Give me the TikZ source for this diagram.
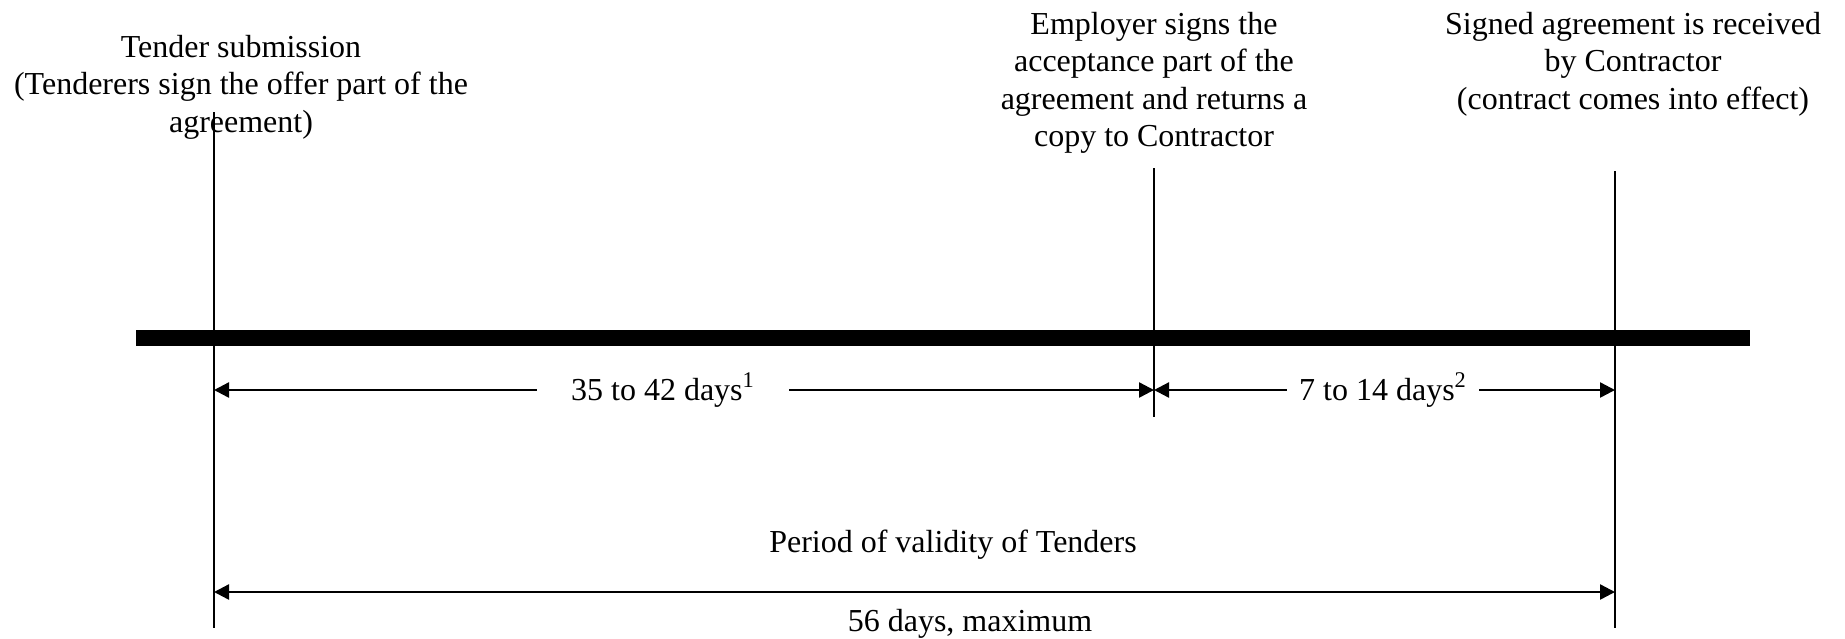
\documentclass[tikz,border=0pt]{standalone}
\usepackage{fontspec}
\setmainfont{Liberation Serif}
\usetikzlibrary{positioning}
\usetikzlibrary{arrows.meta}

\begin{document}
\begin{tikzpicture}
  [
    x                       = 0.5pt,
    y                       = -0.5pt,
    >                       = {Triangle[length=7.5pt,width=7.5pt]},
    every node/.style       = {font=\fontsize{16}{18.6}\selectfont, inner sep=0pt}
  ]
  \useasboundingbox (0,0) rectangle (1845,638);
  \begin{scope}[event/.style={align=center, anchor=north},
  			tick/.style={draw, line width=1pt},
  			timeline/.style={draw, line width=8pt},
  			dim/.style={draw, line width=1.2pt},
  			daylabel/.style={inner xsep=#1}]
  % time points
  \coordinate (sub) at (214,390);
  \coordinate (acc) at (1154,390);
  \coordinate (eff) at (1615,390);
  % events
  \node [event] (tender) at (241,35) {Tender submission\\(Tenderers sign the offer part of the\\agreement)};
  \node [event] (employer) at (1154,12) {Employer signs the\\acceptance part of the\\agreement and returns a\\copy to Contractor};
  \node [event] (signed) at (1633,12) {Signed agreement is received\\by Contractor\\(contract comes into effect)};
  % timeline and ticks
  \draw [timeline] (136,338) -- (1750,338);
  \draw [tick] (sub |- 0,112) -- (sub |- 0,628);
  \draw [tick] (acc |- 0,168) -- (acc |- 0,417);
  \draw [tick] (eff |- 0,171) -- (eff |- 0,628);
  % periods
  \node [daylabel=17pt] (first) at (663,390) {35 to 42 days\textsuperscript{1}};
  \node [daylabel=6pt] (second) at (1383,390) {7 to 14 days\textsuperscript{2}};
  \draw [dim, ->] (first) -- (sub);
  \draw [dim, ->] (first) -- (acc);
  \draw [dim, ->] (second) -- (acc);
  \draw [dim, ->] (second) -- (eff);
  \coordinate (vstart) at (214,592);
  \coordinate (vend) at (1615,592);
  \node (validity) at (953,545) {Period of validity of Tenders};
  \node (maxdays) at (970,624) {56 days, maximum};
  \draw [dim, <->] (vstart) -- (vend);
  \end{scope}
\end{tikzpicture}
\end{document}
